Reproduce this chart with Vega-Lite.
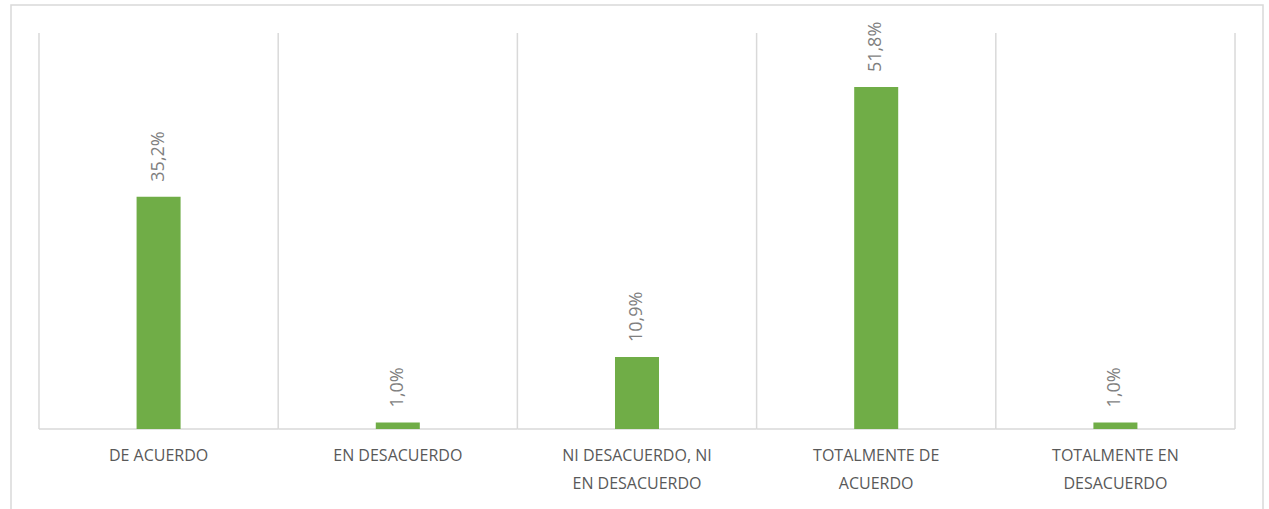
{
  "$schema": "https://vega.github.io/schema/vega-lite/v6.json",
  "autosize": {"type": "none"},
  "width": 1252,
  "height": 510,
  "padding": {"left": 11, "top": 5, "right": 6, "bottom": 0},
  "background": "white",
  "config": {
    "view": {"stroke": "#d9d9d9", "strokeWidth": 1.5},
    "locale": {"number": {"decimal": ",", "thousands": ".", "grouping": [3], "currency": ["", " €"]}},
    "font": "Open Sans"
  },
  "data": {
    "values": [
      {"cat": "DE ACUERDO", "value": 0.352},
      {"cat": "EN DESACUERDO", "value": 0.010},
      {"cat": "NI DESACUERDO, NI EN DESACUERDO", "value": 0.109},
      {"cat": "TOTALMENTE DE ACUERDO", "value": 0.518},
      {"cat": "TOTALMENTE EN DESACUERDO", "value": 0.010}
    ]
  },
  "encoding": {
    "x": {
      "field": "cat",
      "type": "nominal",
      "sort": null,
      "scale": {"paddingInner": 0, "paddingOuter": 0.117},
      "axis": {
        "orient": "bottom",
        "offset": -86,
        "domain": false,
        "ticks": false,
        "grid": false,
        "title": null,
        "labelAngle": 0,
        "labelFont": "Open Sans",
        "labelFontSize": 16,
        "labelColor": "#595959",
        "labelPadding": 18,
        "labelLineHeight": 28,
        "labelLimit": 0,
        "labelOverlap": false,
        "labelExpr": "datum.value == 'NI DESACUERDO, NI EN DESACUERDO' ? ['NI DESACUERDO, NI', 'EN DESACUERDO'] : datum.value == 'TOTALMENTE DE ACUERDO' ? ['TOTALMENTE DE', 'ACUERDO'] : datum.value == 'TOTALMENTE EN DESACUERDO' ? ['TOTALMENTE EN', 'DESACUERDO'] : datum.value"
      }
    }
  },
  "layer": [
    {
      "mark": {"type": "rule", "color": "#d9d9d9", "strokeWidth": 1.5},
      "encoding": {
        "x": {"field": "cat", "type": "nominal", "sort": null, "bandPosition": 0},
        "y": {"datum": 0, "type": "quantitative", "scale": {"domain": [-0.1303, 0.64242], "nice": false, "zero": false}, "axis": null},
        "y2": {"datum": 0.6}
      }
    },
    {
      "transform": [{"filter": "datum.cat == 'TOTALMENTE EN DESACUERDO'"}],
      "mark": {"type": "rule", "color": "#d9d9d9", "strokeWidth": 1.5},
      "encoding": {
        "x": {"field": "cat", "type": "nominal", "sort": null, "bandPosition": 1},
        "y": {"datum": 0, "type": "quantitative"},
        "y2": {"datum": 0.6}
      }
    },
    {
      "mark": {"type": "bar", "fill": null, "stroke": "#d9d9d9", "strokeWidth": 1.5, "width": {"band": 1}},
      "encoding": {
        "y": {"datum": 0, "type": "quantitative"},
        "y2": {"datum": 0}
      }
    },
    {
      "mark": {"type": "bar", "color": "#70AD47", "width": {"band": 0.184}},
      "encoding": {
        "y": {"field": "value", "type": "quantitative"},
        "y2": {"datum": 0}
      }
    },
    {
      "mark": {"type": "text", "angle": 270, "align": "left", "baseline": "middle", "dx": 15, "font": "Open Sans", "fontSize": 18, "color": "#7f7f7f"},
      "encoding": {
        "y": {"field": "value", "type": "quantitative"},
        "text": {"field": "value", "type": "quantitative", "format": ".1%"}
      }
    }
  ]
}
